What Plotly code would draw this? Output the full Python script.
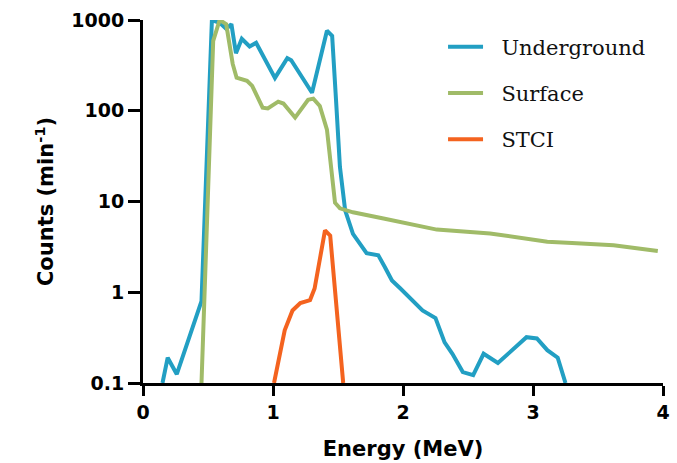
import plotly.graph_objects as go

# Underground spectrum
und_e = [0.15, 0.19, 0.26, 0.45, 0.53, 0.59, 0.64, 0.68, 0.715, 0.76, 0.82, 0.87, 1.015, 1.11, 1.14,
         1.30, 1.415, 1.455, 1.485, 1.515, 1.555, 1.615, 1.72, 1.81, 1.86, 1.915, 1.98, 2.07, 2.15,
         2.25, 2.32, 2.38, 2.46, 2.54, 2.62, 2.73, 2.85, 2.95, 3.03, 3.11, 3.19, 3.25]
und_v = [0.1, 0.19, 0.125, 0.8, 1000, 930, 800, 900, 430, 620, 510, 560, 230, 380, 360,
         158, 760, 670, 130, 24, 8, 4.4, 2.7, 2.55, 1.9, 1.35, 1.1, 0.82, 0.63,
         0.52, 0.28, 0.21, 0.132, 0.122, 0.21, 0.166, 0.24, 0.32, 0.31, 0.23, 0.19, 0.1]

# Surface spectrum
sur_e = [0.45, 0.54, 0.59, 0.64, 0.69, 0.72, 0.80, 0.84, 0.92, 0.96, 1.04, 1.08, 1.17, 1.27, 1.31,
         1.36, 1.415, 1.45, 1.477, 1.515, 1.615, 1.85, 2.11, 2.26, 2.67, 2.9, 3.11, 3.3, 3.62, 3.96]
sur_v = [0.1, 590, 1000, 900, 328, 231, 214, 188, 108, 106, 126, 120, 84, 132, 136,
         113, 62, 23.7, 9.7, 8.4, 7.6, 6.5, 5.4, 4.9, 4.45, 4.0, 3.6, 3.5, 3.3, 2.85]

# STCI spectrum
stci_e = [1.008, 1.09, 1.15, 1.21, 1.285, 1.32, 1.40, 1.44, 1.54]
stci_v = [0.1, 0.38, 0.63, 0.76, 0.82, 1.1, 4.8, 4.2, 0.1]

series_names = ["Underground", "Surface", "STCI"]
x_ticks = [0, 1, 2, 3, 4]
y_ticks = [0.1, 1, 10, 100, 1000]
y_ticklabels = ["0.1", "1", "10", "100", "1000"]

pad = "\u00a0\u00a0"
fig = go.Figure()
fig.add_trace(go.Scatter(x=und_e, y=und_v, mode="lines", name=pad + series_names[0], legendgroup="a",
                         line=dict(color="#229fc3", width=4)))
fig.add_trace(go.Scatter(x=sur_e, y=sur_v, mode="lines", name=pad + series_names[1], legendgroup="b",
                         line=dict(color="#a0bb68", width=4)))
fig.add_trace(go.Scatter(x=stci_e, y=stci_v, mode="lines", name=pad + series_names[2], legendgroup="c",
                         line=dict(color="#f4631f", width=4)))

axis_font = dict(family="DejaVu Sans", size=19, color="black", weight="bold")
title_font = dict(family="DejaVu Sans", size=21, color="black", weight="bold")

fig.update_layout(
    width=677, height=463,
    margin=dict(l=143, r=14, t=20, b=80),
    paper_bgcolor="white", plot_bgcolor="white",
    showlegend=True,
    legend=dict(x=0.577, y=0.982, xanchor="left", yanchor="top",
                font=dict(family="DejaVu Serif", size=21, color="#111"),
                tracegroupgap=16, bgcolor="rgba(0,0,0,0)", itemwidth=35),
    xaxis=dict(range=[0, 4], tickvals=x_ticks, showgrid=False, zeroline=False,
               showline=True, linecolor="black", linewidth=3, automargin=False,
               ticks="outside", ticklen=10, tickwidth=3, tickcolor="black",
               tickfont=axis_font,
               title=dict(text="Energy (MeV)", font=title_font, standoff=20)),
    yaxis=dict(type="log", range=[-1, 3], tickvals=y_ticks, ticktext=y_ticklabels,
               showgrid=False, zeroline=False, automargin=False,
               showline=True, linecolor="black", linewidth=3,
               ticks="outside", ticklen=12, tickwidth=3, tickcolor="black",
               tickfont=axis_font,
               title=dict(text="Counts (min<sup>-1</sup>)", font=title_font, standoff=12)),
)

fig.write_html("out.html")
